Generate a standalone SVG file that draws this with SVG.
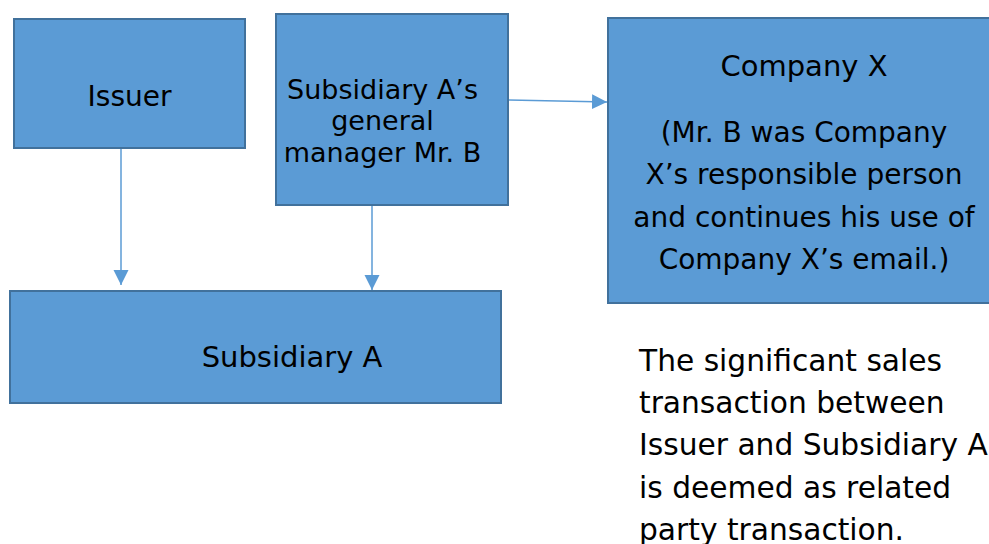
<svg xmlns="http://www.w3.org/2000/svg" width="989" height="544" viewBox="0 0 989 544">
<style>
.box{fill:#5B9BD5;stroke:#41719C;stroke-width:2}
.t{font-family:"DejaVu Sans",sans-serif;fill:#000}
.c{text-anchor:middle}
.conn{stroke:#5B9BD5;stroke-width:1.5;fill:none}
</style>
<defs>
<marker id="ah" markerUnits="userSpaceOnUse" markerWidth="16" markerHeight="16" refX="15" refY="8" orient="auto">
<path d="M0,0.5 L15,8 L0,15.5 Z" fill="#5B9BD5"/>
</marker>
</defs>
<rect width="989" height="544" fill="#fff"/>
<g id="connectors">
<line class="conn" x1="121" y1="149" x2="121" y2="285" marker-end="url(#ah)"/>
<line class="conn" x1="372" y1="205" x2="372" y2="290" marker-end="url(#ah)"/>
<line class="conn" x1="509" y1="100" x2="607" y2="102" marker-end="url(#ah)"/>
</g>
<g id="issuer">
<rect class="box" x="14" y="19" width="231" height="129"/>
<text class="t c" x="129.5" y="106" font-size="28">Issuer</text>
</g>
<g id="gm">
<rect class="box" x="276" y="14" width="232" height="191"/>
<text class="t c" font-size="27" x="382.5" y="99">Subsidiary A’s</text>
<text class="t c" font-size="27" x="382.5" y="130">general</text>
<text class="t c" font-size="27" x="382.5" y="162">manager Mr. B</text>
</g>
<g id="companyx">
<rect class="box" x="608" y="18" width="392" height="285"/>
<text class="t c" font-size="29" x="804" y="76">Company X</text>
<text class="t c" font-size="28" x="804" y="142">(Mr. B was Company</text>
<text class="t c" font-size="28" x="804" y="184">X’s responsible person</text>
<text class="t c" font-size="28" x="804" y="227">and continues his use of</text>
<text class="t c" font-size="28" x="804" y="269">Company X’s email.)</text>
</g>
<g id="subsidiarya">
<rect class="box" x="10" y="291" width="491" height="112"/>
<text class="t c" font-size="29" x="292" y="367">Subsidiary A</text>
</g>
<g id="note">
<text class="t" font-size="29.7" x="639" y="371">The significant sales</text>
<text class="t" font-size="29.7" x="639" y="413">transaction between</text>
<text class="t" font-size="29.7" x="639" y="455">Issuer and Subsidiary A</text>
<text class="t" font-size="29.7" x="639" y="498">is deemed as related</text>
<text class="t" font-size="29.7" x="639" y="540">party transaction.</text>
</g>
</svg>
